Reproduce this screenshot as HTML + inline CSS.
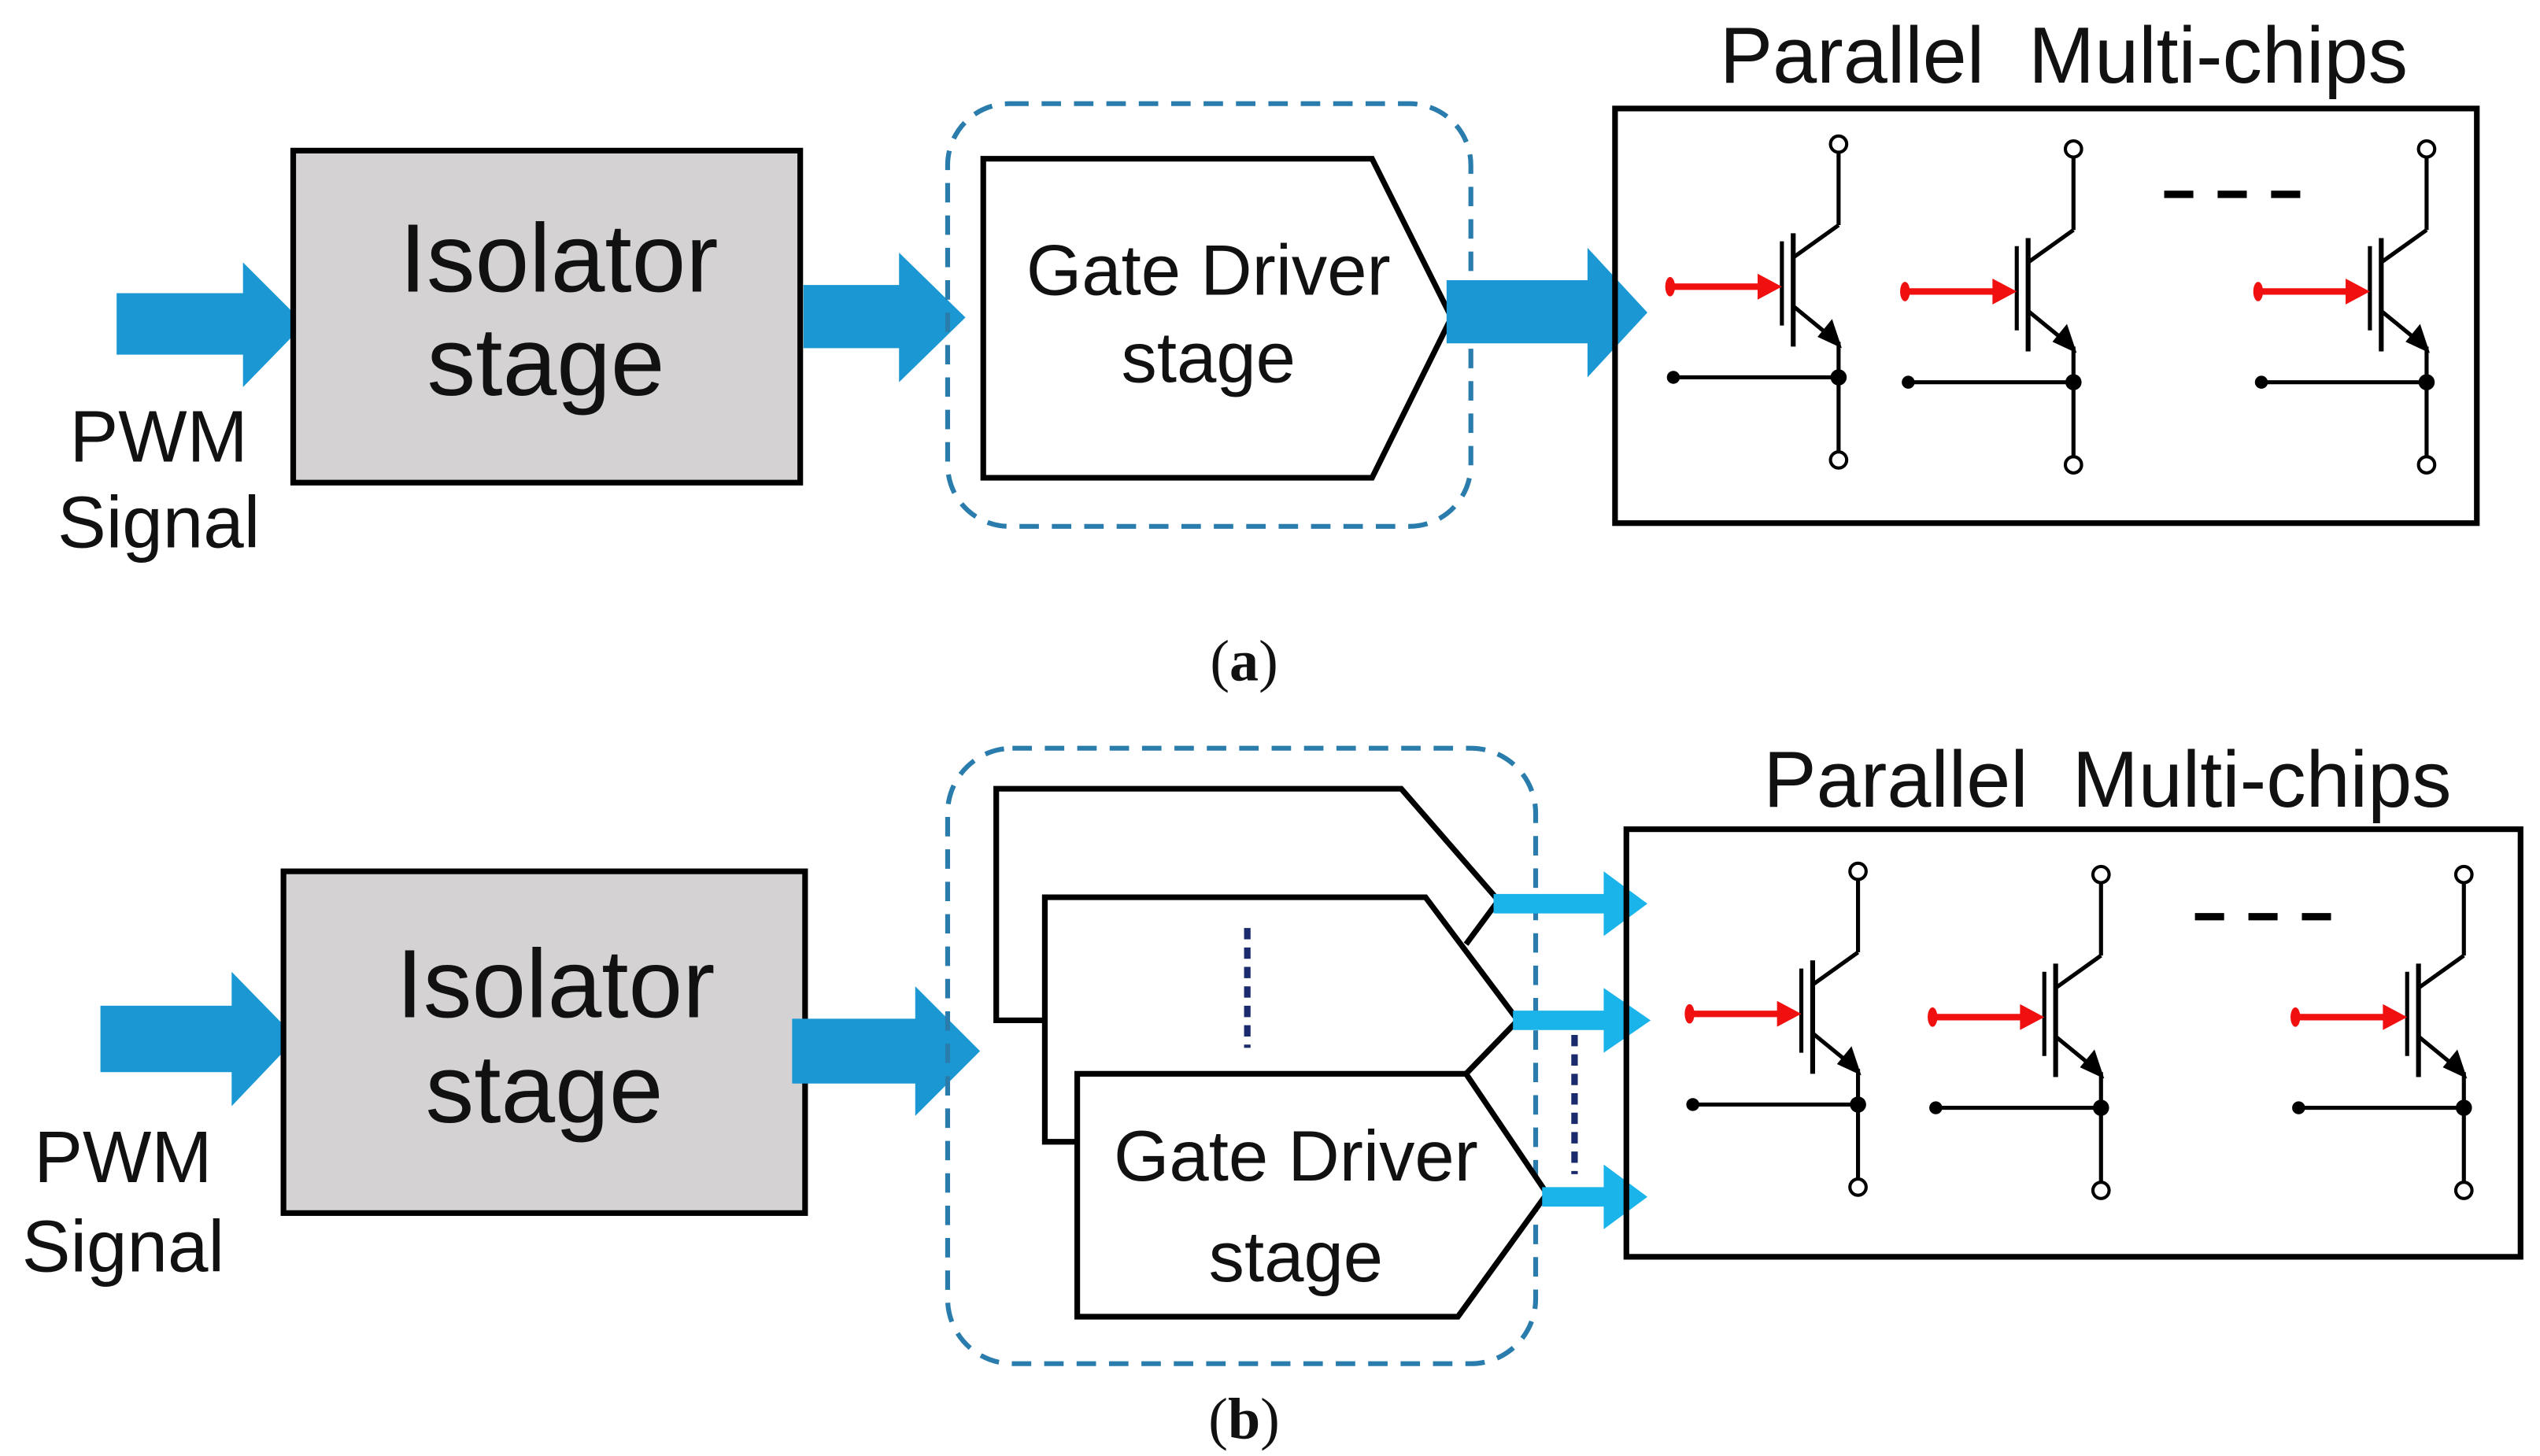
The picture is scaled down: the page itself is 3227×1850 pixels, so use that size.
<!DOCTYPE html>
<html><head><meta charset="utf-8"><style>
html,body{margin:0;padding:0;background:#fff;}
svg{display:block;}
text{font-family:"Liberation Sans",Arial,sans-serif;fill:#111;}
</style></head><body>
<svg width="3227" height="1850" viewBox="0 0 1568 899" preserveAspectRatio="none" xmlns="http://www.w3.org/2000/svg">
<defs>
<g id="igbt" stroke="#000" fill="none">
  <line x1="0" y1="5" x2="0" y2="50" stroke-width="2.5"/>
  <line x1="0" y1="50" x2="-28" y2="70" stroke-width="2.5"/>
  <line x1="-28" y1="55" x2="-28" y2="125" stroke-width="3"/>
  <line x1="-35" y1="60" x2="-35" y2="112" stroke-width="2.5"/>
  <line x1="-28" y1="100" x2="-6" y2="118" stroke-width="2.5"/>
  <polygon points="2,126 -13,119 -4,108" fill="#000" stroke="none"/>
  <line x1="0" y1="122" x2="0" y2="190" stroke-width="2.5"/>
  <circle cx="0" cy="0" r="5" fill="#fff" stroke-width="2"/>
  <circle cx="0" cy="195" r="5" fill="#fff" stroke-width="2"/>
  <line x1="-102" y1="144" x2="0" y2="144" stroke-width="2.5"/>
  <circle cx="0" cy="144" r="5" fill="#000" stroke="none"/>
  <circle cx="-102" cy="144" r="4" fill="#000" stroke="none"/>
  <line x1="-103" y1="88" x2="-48" y2="88" stroke="#f01010" stroke-width="4"/>
  <polygon points="-35,88 -50,80 -50,96" fill="#f01010" stroke="none"/>
  <ellipse cx="-104" cy="88" rx="3" ry="6" fill="#f01010" stroke="none"/>
</g>
</defs>

<!-- ===== (a) ===== -->
<polygon points="72,181 150,181 150,162 188,200 150,239 150,219 72,219" fill="#1b98d4"/>
<text x="98" y="285" font-size="45" text-anchor="middle">PWM</text>
<text x="98" y="338" font-size="45" text-anchor="middle">Signal</text>

<rect x="181" y="93" width="313" height="205" fill="#d4d2d3" stroke="#000" stroke-width="3.5"/>
<text x="345" y="180" font-size="60" text-anchor="middle">Isolator</text>
<text x="337" y="244" font-size="60" text-anchor="middle">stage</text>

<polygon points="496,176 555,176 555,156 596,196 555,236 555,215 496,215" fill="#1b98d4"/>

<rect x="585" y="64" width="323" height="261" rx="38" fill="none" stroke="#2a7cac" stroke-width="3" stroke-dasharray="12,8"/>
<polygon points="607,98 847,98 896,196 847,295 607,295" fill="#fff" stroke="#000" stroke-width="3.5"/>
<text x="746" y="182" font-size="44" text-anchor="middle">Gate Driver</text>
<text x="746" y="236" font-size="44" text-anchor="middle">stage</text>

<polygon points="893,173 980,173 980,153 1017,193 980,233 980,212 893,212" fill="#1b98d4"/>

<rect x="997" y="67" width="532" height="256" fill="none" stroke="#000" stroke-width="3.5"/>
<text x="1274" y="51" font-size="49" text-anchor="middle">Parallel&#160; Multi-chips</text>
<line x1="1336" y1="120" x2="1420" y2="120" stroke="#000" stroke-width="4.5" stroke-dasharray="18,15"/>
<use href="#igbt" transform="translate(1135,89)"/>
<use href="#igbt" transform="translate(1280,92)"/>
<use href="#igbt" transform="translate(1498,92)"/>

<text x="768" y="420" font-size="36" text-anchor="middle" style="font-family:'Liberation Serif',serif">(<tspan font-weight="bold">a</tspan>)</text>

<!-- ===== (b) ===== -->
<polygon points="62,621 143,621 143,600 183,641 143,683 143,662 62,662" fill="#1b98d4"/>
<text x="76" y="730" font-size="45" text-anchor="middle">PWM</text>
<text x="76" y="785" font-size="45" text-anchor="middle">Signal</text>

<rect x="175" y="538" width="322" height="211" fill="#d4d2d3" stroke="#000" stroke-width="3.5"/>
<text x="343" y="628" font-size="60" text-anchor="middle">Isolator</text>
<text x="336" y="693" font-size="60" text-anchor="middle">stage</text>

<polygon points="489,629 565,629 565,609 605,649 565,689 565,669 489,669" fill="#1b98d4"/>

<rect x="585" y="462" width="363" height="380" rx="40" fill="none" stroke="#2a7cac" stroke-width="3" stroke-dasharray="12,8"/>

<polyline points="645,630 615,630 615,487 865,487 925,556 905,583" fill="none" stroke="#000" stroke-width="3.5"/>
<polygon points="645,554 880,554 937,630 905,663 665,663 665,705 645,705" fill="#fff" stroke="none"/>
<polyline points="665,705 645,705 645,554 880,554 937,630 905,663" fill="none" stroke="#000" stroke-width="3.5"/>
<polygon points="665,663 905,663 955,737 900,813 665,813" fill="#fff" stroke="#000" stroke-width="3.5"/>
<text x="800" y="729" font-size="44" text-anchor="middle">Gate Driver</text>
<text x="800" y="791" font-size="44" text-anchor="middle">stage</text>

<line x1="770" y1="573" x2="770" y2="647" stroke="#1a2a6c" stroke-width="4" stroke-dasharray="7,5"/>
<line x1="972" y1="639" x2="972" y2="725" stroke="#1a2a6c" stroke-width="4" stroke-dasharray="7,5"/>

<polygon points="922,552 990,552 990,538 1017,558 990,578 990,564 922,564" fill="#1ab4ea"/>
<polygon points="934,624 990,624 990,610 1019,630 990,650 990,636 934,636" fill="#1ab4ea"/>
<polygon points="952,733 990,733 990,719 1017,739 990,759 990,745 952,745" fill="#1ab4ea"/>

<rect x="1004" y="512" width="552" height="264" fill="none" stroke="#000" stroke-width="3.5"/>
<text x="1301" y="498" font-size="49" text-anchor="middle">Parallel&#160; Multi-chips</text>
<line x1="1355" y1="566" x2="1440" y2="566" stroke="#000" stroke-width="4.5" stroke-dasharray="18,15"/>
<use href="#igbt" transform="translate(1147,538)"/>
<use href="#igbt" transform="translate(1297,540)"/>
<use href="#igbt" transform="translate(1521,540)"/>

<text x="768" y="888" font-size="36" text-anchor="middle" style="font-family:'Liberation Serif',serif">(<tspan font-weight="bold">b</tspan>)</text>
</svg>
</body></html>
